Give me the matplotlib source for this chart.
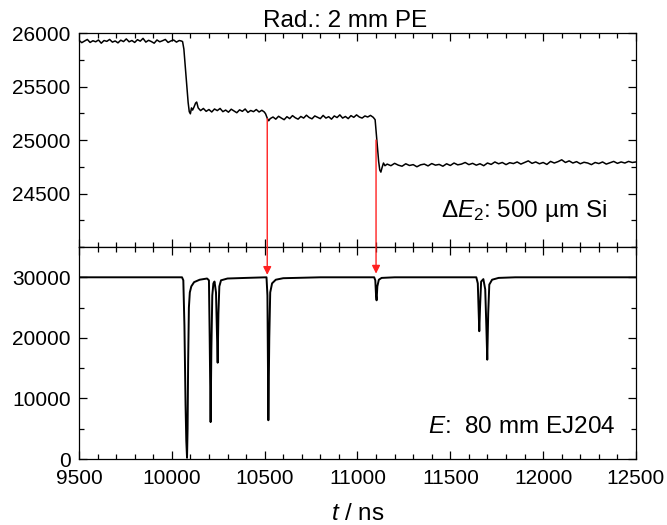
import matplotlib
matplotlib.use('Agg')
import matplotlib.pyplot as plt
from matplotlib.ticker import MultipleLocator

plt.rcParams['font.family'] = ['Liberation Sans', 'DejaVu Sans']
plt.rcParams['mathtext.fontset'] = 'custom'
plt.rcParams['mathtext.rm'] = 'Liberation Sans'
plt.rcParams['mathtext.it'] = 'Liberation Sans:italic'

# Delta E2 (500 um Si) signal, piece by piece
de_t_a = [9500, 9515, 9530, 9545, 9560, 9575, 9590, 9605, 9620, 9635, 9650, 9665, 9680,
          9695, 9710, 9725, 9740, 9755, 9770, 9785, 9800, 9815, 9830, 9845, 9860, 9875,
          9890, 9905, 9920, 9935, 9950, 9965, 9980, 9995, 10010, 10025, 10040, 10052]
de_v_a = [25932, 25910, 25925, 25940, 25912, 25928, 25918, 25935, 25905, 25930,
          25922, 25940, 25915, 25926, 25908, 25933, 25920, 25945, 25918, 25930,
          25912, 25938, 25924, 25950, 25915, 25932, 25920, 25905, 25935, 25918,
          25928, 25940, 25912, 25926, 25935, 25915, 25930, 25925]
step1_t = [10058, 10065, 10072, 10080, 10088, 10094, 10100, 10106, 10112, 10120, 10128, 10134, 10142]
step1_v = [25920, 25850, 25700, 25520, 25350, 25265, 25245, 25300, 25280, 25310, 25345, 25355, 25300]
de_t_b = [10155, 10170, 10185, 10200, 10215, 10230, 10245, 10260, 10275, 10290, 10305, 10320,
          10335, 10350, 10365, 10380, 10395, 10410, 10425, 10440, 10455, 10470, 10485, 10498]
de_v_b = [25275, 25295, 25268, 25285, 25262, 25290, 25275, 25295, 25265, 25280,
          25260, 25288, 25272, 25255, 25282, 25268, 25290, 25258, 25276, 25265,
          25285, 25262, 25278, 25262]
step2_t = [10505, 10515, 10522, 10530]
step2_v = [25245, 25200, 25180, 25200]
de_t_c = [10545, 10560, 10575, 10590, 10605, 10620, 10635, 10650, 10665, 10680, 10695, 10710,
          10725, 10740, 10755, 10770, 10785, 10800, 10815, 10830, 10845, 10860, 10875, 10890,
          10905, 10920, 10935, 10950, 10965, 10980, 10995, 11010, 11025, 11040, 11055, 11070, 11085]
de_v_c = [25215, 25195, 25222, 25205, 25190, 25218, 25200, 25228, 25208, 25195,
          25220, 25205, 25232, 25210, 25198, 25225, 25212, 25200, 25230, 25205,
          25218, 25195, 25225, 25210, 25235, 25205, 25220, 25200, 25228, 25212,
          25235, 25215, 25205, 25225, 25215, 25230, 25212]
step3_t = [11095, 11102, 11108, 11114, 11120, 11126, 11132, 11140, 11148]
step3_v = [25190, 25050, 24920, 24800, 24720, 24700, 24740, 24785, 24760]
de_t_d = [11160, 11180, 11200, 11220, 11240, 11260, 11280, 11300, 11320, 11340, 11360, 11380,
          11400, 11420, 11440, 11460, 11480, 11500, 11520, 11540, 11560, 11580, 11600, 11620,
          11640, 11660, 11680, 11700, 11720, 11740, 11760, 11780, 11800, 11820, 11840, 11860,
          11880, 11900, 11920, 11940, 11960, 11980, 12000, 12020, 12040, 12060, 12080, 12100,
          12120, 12140, 12160, 12180, 12200, 12220, 12240, 12260, 12280, 12300, 12320, 12340,
          12360, 12380, 12400, 12420, 12440, 12460, 12480, 12500]
de_v_d = [24775, 24760, 24782, 24765, 24755, 24778, 24762, 24770, 24750, 24768,
          24775, 24758, 24780, 24765, 24772, 24755, 24778, 24762, 24785, 24768,
          24775, 24790, 24770, 24782, 24765, 24778, 24760, 24785, 24772, 24795,
          24778, 24790, 24770, 24788, 24780, 24795, 24775, 24790, 24805, 24782,
          24795, 24778, 24790, 24772, 24800, 24785, 24798, 24815, 24790, 24805,
          24785, 24798, 24778, 24792, 24785, 24770, 24790, 24780, 24795, 24775,
          24788, 24800, 24782, 24795, 24785, 24800, 24790, 24795]

de_t = de_t_a + step1_t + de_t_b + step2_t + de_t_c + step3_t + de_t_d
de_v = de_v_a + step1_v + de_v_b + step2_v + de_v_c + step3_v + de_v_d

# E (80 mm EJ204) signal
e_t = [9500, 10055, 10062, 10068, 10074, 10078, 10082, 10085, 10088, 10092, 10097,
       10105, 10120, 10150, 10190, 10200, 10204, 10209, 10213, 10218, 10224, 10230,
       10238, 10243, 10247, 10251, 10256, 10265, 10300, 10400, 10510, 10515, 10520,
       10525, 10530, 10540, 10560, 10600, 10800, 11090, 11096, 11100, 11103, 11107,
       11115, 11130, 11200, 11640, 11648, 11652, 11656, 11660, 11666, 11678, 11688,
       11694, 11699, 11704, 11710, 11725, 11760, 11850, 12500]
e_v = [30000, 30000, 29500, 22000, 9000, 3000, 200, 5000, 16000, 25000, 27500,
       28500, 29200, 29600, 29800, 29500, 20000, 6100, 18000, 27000, 29000, 29300,
       27500, 21000, 15900, 24000, 28500, 29500, 29800, 29900, 30000, 27000, 6400,
       20000, 27500, 29000, 29600, 29850, 30000, 30000, 29500, 27000, 26200, 28500,
       29600, 29900, 30000, 30000, 29000, 25000, 21100, 25000, 29300, 29700, 28000,
       22000, 16400, 24000, 28800, 29600, 29900, 30000, 30000]

# arrows linking the two detectors: (time, start in DE2, end in E)
arrow_t = [10514, 11100]
arrow_from = [25200, 25000]
arrow_to = [30400, 30600]

fig = plt.figure(figsize=(6.67, 5.25), dpi=100)
ax_top = fig.add_axes([0.1184, 0.5295, 0.8351, 0.4076])
ax_bot = fig.add_axes([0.1184, 0.1257, 0.8351, 0.4038], sharex=ax_top)

ax_top.plot(de_t, de_v, color='black', lw=1.1)
ax_bot.plot(e_t, e_v, color='black', lw=1.4)

ax_top.set_xlim(9500, 12500)
ax_top.set_ylim(24000, 26000)
ax_bot.set_ylim(0, 35000)

ax_top.set_yticks([24500, 25000, 25500, 26000])
ax_top.yaxis.set_minor_locator(MultipleLocator(250))
ax_bot.set_yticks([0, 10000, 20000, 30000])
ax_bot.yaxis.set_minor_locator(MultipleLocator(5000))
ax_bot.xaxis.set_major_locator(MultipleLocator(500))
ax_bot.xaxis.set_minor_locator(MultipleLocator(100))

for ax in (ax_top, ax_bot):
    ax.tick_params(which='both', direction='in', top=True, right=True, labelsize=15)
    ax.tick_params(which='major', length=6, width=0.9)
    ax.tick_params(which='minor', length=3.5, width=0.9)
    ax.tick_params(axis='y', pad=6)
    ax.tick_params(axis='x', pad=7)
    for s in ax.spines.values():
        s.set_linewidth(0.9)
ax_top.tick_params(labelbottom=False)

ax_top.set_title('Rad.: 2 mm PE', fontsize=17.5, pad=4, x=0.478)
ax_bot.set_xlabel(r'$t$ / ns', fontsize=17.5, labelpad=11)

ax_top.text(0.948, 0.168, r'$\Delta E_2$: 500 µm Si', transform=ax_top.transAxes,
            ha='right', va='center', fontsize=17.5)
ax_bot.text(0.963, 0.152, r'$E$:  80 mm EJ204', transform=ax_bot.transAxes,
            ha='right', va='center', fontsize=17.5)

for t, y0, y1 in zip(arrow_t, arrow_from, arrow_to):
    ax_bot.annotate('', xy=(t, y1), xycoords=ax_bot.transData,
                    xytext=(t, y0), textcoords=ax_top.transData,
                    arrowprops=dict(arrowstyle='-|>', color='#ff2020', lw=1.0,
                                    mutation_scale=12, shrinkA=0, shrinkB=0),
                    annotation_clip=False)

fig.savefig('out.png', dpi=100)
